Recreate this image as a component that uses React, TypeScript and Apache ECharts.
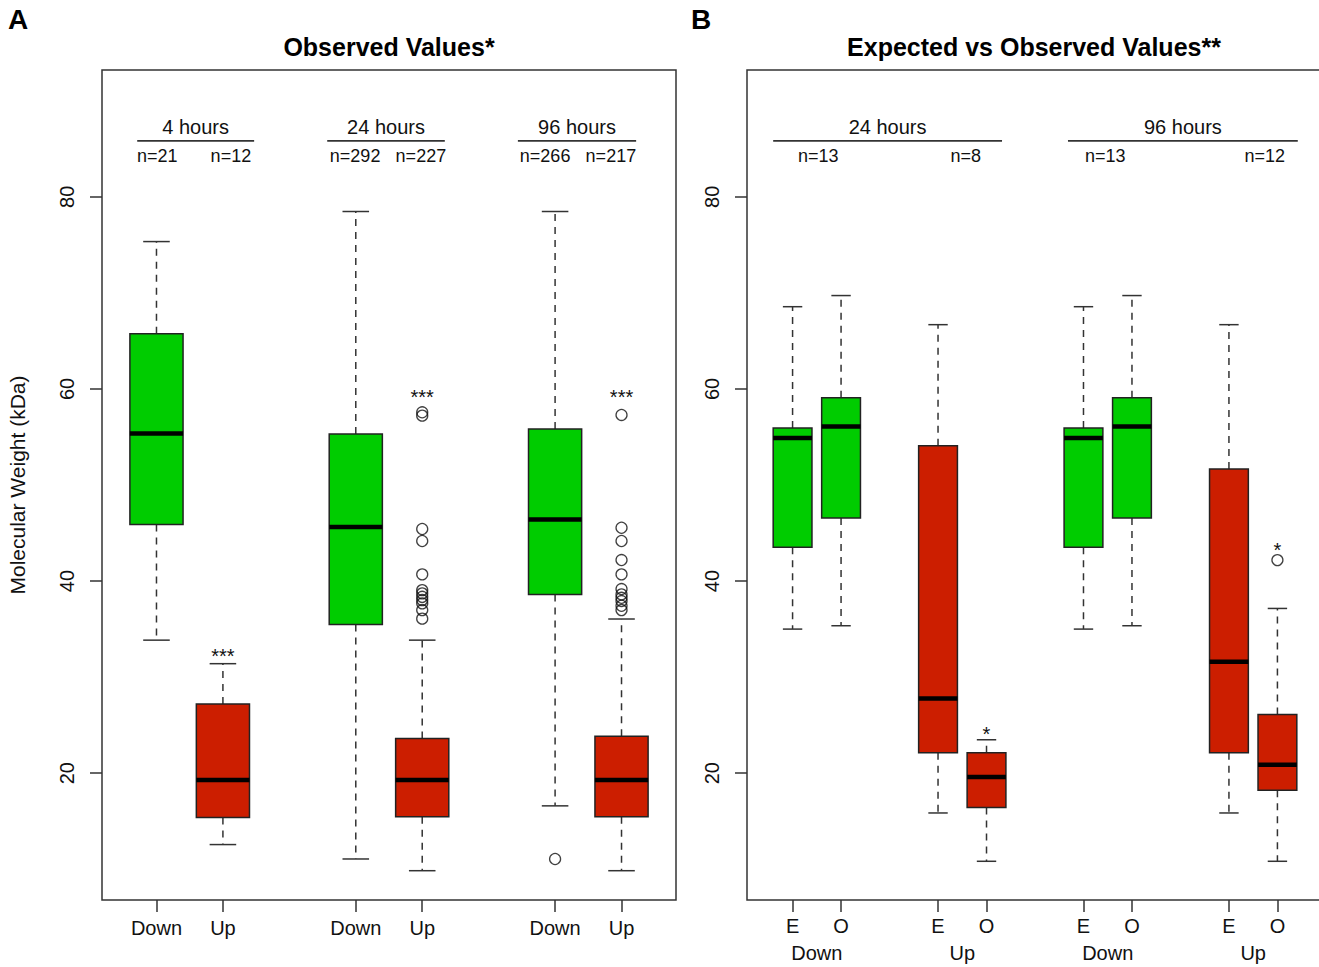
import React, { useEffect, useRef } from 'react';
import * as echarts from 'echarts';

// ---------- Panel A : Observed values ----------
const posA = [1, 2, 4, 5, 7, 8];
const labelsA = ['Down', 'Up', 'Down', 'Up', 'Down', 'Up'];
const minA = [33.85, 12.57, 11.07, 9.85, 16.6, 9.85];
const q1A = [45.9, 15.4, 35.49, 15.47, 38.61, 15.47];
const medA = [55.36, 19.3, 45.63, 19.3, 46.4, 19.3];
const q3A = [65.74, 27.2, 55.32, 23.6, 55.82, 23.85];
const maxA = [75.34, 31.4, 78.47, 33.85, 78.47, 36.05];
const outliersA: number[][] = [
  [],
  [],
  [],
  [57.57, 57.22, 45.42, 44.17, 40.7, 39.06, 38.72, 38.36, 38.02, 37.68, 36.98, 36.09],
  [11.07],
  [57.29, 45.55, 44.17, 42.19, 40.7, 39.17, 38.61, 38.26, 37.92, 37.43, 36.98],
];
const starsA = ['', '***', '', '***', '', '***'];
const starYA = [0, 32.2, 0, 59.2, 0, 59.2];
const hoursA = ['4 hours', '24 hours', '96 hours'];
const hourStartA = [0.71, 3.57, 6.44];
const hourEndA = [2.47, 5.34, 8.22];
const nTextA = ['n=21', 'n=12', 'n=292', 'n=227', 'n=266', 'n=217'];
const nPosA = [1.01, 2.12, 3.99, 4.98, 6.85, 7.84];

// ---------- Panel B : Expected vs observed ----------
const posB = [1, 2, 4, 5, 7, 8, 10, 11];
const labelsB = ['E', 'O', 'E', 'O', 'E', 'O', 'E', 'O'];
const dirB = ['Down', 'Down', 'Up', 'Up', 'Down', 'Down', 'Up', 'Up'];
const minB = [35.0, 35.35, 15.86, 10.83, 35.0, 35.35, 15.86, 10.83];
const q1B = [43.53, 46.56, 22.13, 16.42, 43.53, 46.56, 22.13, 18.22];
const medB = [54.89, 56.08, 27.78, 19.61, 54.89, 56.08, 31.6, 20.89];
const q3B = [55.93, 59.07, 54.09, 22.13, 55.93, 59.07, 51.66, 26.1];
const maxB = [68.56, 69.72, 66.69, 23.48, 68.56, 69.72, 66.69, 37.15];
const outliersB: number[][] = [[], [], [], [], [], [], [], [42.18]];
const starsB = ['', '', '', '*', '', '', '', '*'];
const starYB = [0, 0, 0, 24.06, 0, 0, 0, 43.2];
const groupPosB = [1.5, 4.5, 7.5, 10.5];
const groupLabelsB = ['Down', 'Up', 'Down', 'Up'];
const hoursB = ['24 hours', '96 hours'];
const hourStartB = [0.6, 6.68];
const hourEndB = [5.32, 11.42];
const nTextB = ['n=13', 'n=8', 'n=13', 'n=12'];
const nPosB = [1.53, 4.57, 7.45, 10.74];

const yTicks = [20, 40, 60, 80];

// layout / style constants
const FONT = '"Liberation Sans", Arial, Helvetica, sans-serif';
const GREEN = '#00CC00';
const RED = '#CC1E00';
const LINE = '#333333';
const HEADER_LINE_Y = 85.83;
const HEADER_TEXT_Y = 87.3;
const N_TEXT_Y = 84.27;

function boxSeries(idx: number, pos: number[], mn: number[], q1: number[], md: number[], q3: number[], mx: number[], dirs: string[]) {
  return {
    type: 'custom',
    xAxisIndex: idx === 0 ? 0 : 1,
    yAxisIndex: idx,
    silent: true,
    data: pos.map((p, i) => [p, mn[i], q1[i], md[i], q3[i], mx[i]]),
    renderItem: (params: any, api: any) => {
      const i = params.dataIndex;
      const x = api.value(0);
      const w = api.size([0.8, 0])[0];
      const cx = api.coord([x, api.value(3)])[0];
      const yMin = api.coord([x, api.value(1)])[1];
      const yQ1 = api.coord([x, api.value(2)])[1];
      const yMed = api.coord([x, api.value(3)])[1];
      const yQ3 = api.coord([x, api.value(4)])[1];
      const yMax = api.coord([x, api.value(5)])[1];
      const fill = dirs[i] === 'Down' ? GREEN : RED;
      const dashed = { stroke: LINE, lineWidth: 1.5, lineDash: [7, 6] };
      const solid = { stroke: LINE, lineWidth: 1.5 };
      return {
        type: 'group',
        children: [
          { type: 'line', shape: { x1: cx, y1: yQ3, x2: cx, y2: yMax }, style: dashed },
          { type: 'line', shape: { x1: cx, y1: yQ1, x2: cx, y2: yMin }, style: dashed },
          { type: 'line', shape: { x1: cx - w / 4, y1: yMax, x2: cx + w / 4, y2: yMax }, style: solid },
          { type: 'line', shape: { x1: cx - w / 4, y1: yMin, x2: cx + w / 4, y2: yMin }, style: solid },
          { type: 'rect', shape: { x: cx - w / 2, y: yQ3, width: w, height: yQ1 - yQ3 }, style: { fill, stroke: '#222', lineWidth: 1.5 } },
          { type: 'line', shape: { x1: cx - w / 2, y1: yMed, x2: cx + w / 2, y2: yMed }, style: { stroke: '#000', lineWidth: 4.5 } },
        ],
      };
    },
  };
}

function outlierSeries(idx: number, pos: number[], outs: number[][]) {
  const data: number[][] = [];
  outs.forEach((arr, i) => arr.forEach((v) => data.push([pos[i], v])));
  return {
    type: 'scatter',
    xAxisIndex: idx === 0 ? 0 : 1,
    yAxisIndex: idx,
    silent: true,
    symbol: 'circle',
    symbolSize: 11,
    itemStyle: { color: 'transparent', borderColor: '#111', borderWidth: 1.3 },
    data,
  };
}

function textSeries(idx: number, xs: number[], ys: number[], texts: string[], size: number) {
  return {
    type: 'custom',
    xAxisIndex: idx === 0 ? 0 : 1,
    yAxisIndex: idx,
    silent: true,
    clip: false,
    data: xs.map((x, i) => [x, ys[i]]),
    renderItem: (params: any, api: any) => {
      const t = texts[params.dataIndex];
      if (!t) return null;
      const p = api.coord([api.value(0), api.value(1)]);
      return {
        type: 'text',
        x: p[0],
        y: p[1],
        style: { text: t, fill: '#111', fontSize: size, fontFamily: FONT, align: 'center', verticalAlign: 'middle' },
      };
    },
  };
}

function headerSeries(idx: number, starts: number[], ends: number[], labels: string[]) {
  return {
    type: 'custom',
    xAxisIndex: idx === 0 ? 0 : 1,
    yAxisIndex: idx,
    silent: true,
    clip: false,
    data: starts.map((s, i) => [s, ends[i]]),
    renderItem: (params: any, api: any) => {
      const i = params.dataIndex;
      const a = api.coord([api.value(0), HEADER_LINE_Y]);
      const b = api.coord([api.value(1), HEADER_LINE_Y]);
      const t = api.coord([(api.value(0) + api.value(1)) / 2, HEADER_TEXT_Y]);
      return {
        type: 'group',
        children: [
          { type: 'line', shape: { x1: a[0], y1: a[1], x2: b[0], y2: b[1] }, style: { stroke: LINE, lineWidth: 1.8 } },
          { type: 'text', x: t[0], y: t[1], style: { text: labels[i], fill: '#111', fontSize: 20, fontFamily: FONT, align: 'center', verticalAlign: 'middle' } },
        ],
      };
    },
  };
}

function yAxisCfg(grid: number, withName: boolean) {
  return {
    type: 'value',
    gridIndex: grid,
    min: 6.8,
    max: 93.2,
    splitLine: { show: false },
    axisLine: { show: false },
    axisTick: { show: true, length: 12, customValues: yTicks, lineStyle: { color: LINE, width: 1.5 } },
    axisLabel: { customValues: yTicks, rotate: 90, margin: 25, fontSize: 20, color: '#111', fontFamily: FONT },
    name: withName ? 'Molecular Weight (kDa)' : '',
    nameLocation: 'middle',
    nameGap: 74,
    nameRotate: 90,
    nameTextStyle: { fontSize: 21, color: '#111', fontFamily: FONT },
  };
}

export default function App() {
  const ref = useRef<HTMLDivElement>(null);
  useEffect(() => {
    if (!ref.current) return;
    const chart = echarts.init(ref.current, undefined, { renderer: 'svg' });
    const option: any = {
      animation: false,
      backgroundColor: '#fff',
      grid: [
        { left: 102, top: 70, width: 574, height: 830, show: true, borderColor: LINE, borderWidth: 1.5, backgroundColor: 'transparent' },
        { left: 747, top: 70, width: 576, height: 830, show: true, borderColor: LINE, borderWidth: 1.5, backgroundColor: 'transparent' },
      ],
      xAxis: [
        {
          type: 'value', gridIndex: 0, min: 0.18, max: 8.82,
          splitLine: { show: false }, axisLine: { show: false },
          axisTick: { show: true, length: 12, customValues: posA, lineStyle: { color: LINE, width: 1.5 } },
          axisLabel: { customValues: posA, margin: 18, fontSize: 20, color: '#111', fontFamily: FONT, formatter: (v: number) => labelsA[posA.indexOf(Math.round(v))] || '' },
        },
        {
          type: 'value', gridIndex: 1, min: 0.06, max: 11.94,
          splitLine: { show: false }, axisLine: { show: false },
          axisTick: { show: true, length: 12, customValues: posB, lineStyle: { color: LINE, width: 1.5 } },
          axisLabel: { customValues: posB, margin: 16, fontSize: 20, color: '#111', fontFamily: FONT, formatter: (v: number) => labelsB[posB.indexOf(Math.round(v))] || '' },
        },
        {
          type: 'value', gridIndex: 1, min: 0.06, max: 11.94, position: 'bottom',
          splitLine: { show: false }, axisLine: { show: false }, axisTick: { show: false },
          axisLabel: { customValues: groupPosB, margin: 43, fontSize: 20, color: '#111', fontFamily: FONT, formatter: (v: number) => groupLabelsB[groupPosB.indexOf(v)] || '' },
        },
      ],
      yAxis: [yAxisCfg(0, true), yAxisCfg(1, false)],
      graphic: [
        { type: 'text', x: 18, y: 19, style: { text: 'A', fontSize: 28, fontWeight: 'bold', fontFamily: FONT, fill: '#000', align: 'center', verticalAlign: 'middle' } },
        { type: 'text', x: 701, y: 19, style: { text: 'B', fontSize: 28, fontWeight: 'bold', fontFamily: FONT, fill: '#000', align: 'center', verticalAlign: 'middle' } },
        { type: 'text', x: 389, y: 47, style: { text: 'Observed Values*', fontSize: 25, fontWeight: 'bold', fontFamily: FONT, fill: '#000', align: 'center', verticalAlign: 'middle' } },
        { type: 'text', x: 1034, y: 47, style: { text: 'Expected vs Observed Values**', fontSize: 25, fontWeight: 'bold', fontFamily: FONT, fill: '#000', align: 'center', verticalAlign: 'middle' } },
      ],
      series: [
        boxSeries(0, posA, minA, q1A, medA, q3A, maxA, labelsA),
        outlierSeries(0, posA, outliersA),
        textSeries(0, posA, starYA, starsA, 20),
        headerSeries(0, hourStartA, hourEndA, hoursA),
        textSeries(0, nPosA, nPosA.map(() => N_TEXT_Y), nTextA, 18),
        boxSeries(1, posB, minB, q1B, medB, q3B, maxB, dirB),
        outlierSeries(1, posB, outliersB),
        textSeries(1, posB, starYB, starsB, 20),
        headerSeries(1, hourStartB, hourEndB, hoursB),
        textSeries(1, nPosB, nPosB.map(() => N_TEXT_Y), nTextB, 18),
      ],
    };
    chart.setOption(option);
    return () => chart.dispose();
  }, []);
  return (
    <div style={{ position: 'absolute', left: 0, top: 0, width: 1319, height: 967, overflow: 'hidden' }}>
      <div ref={ref} style={{ width: 1340, height: 967 }} />
    </div>
  );
}
